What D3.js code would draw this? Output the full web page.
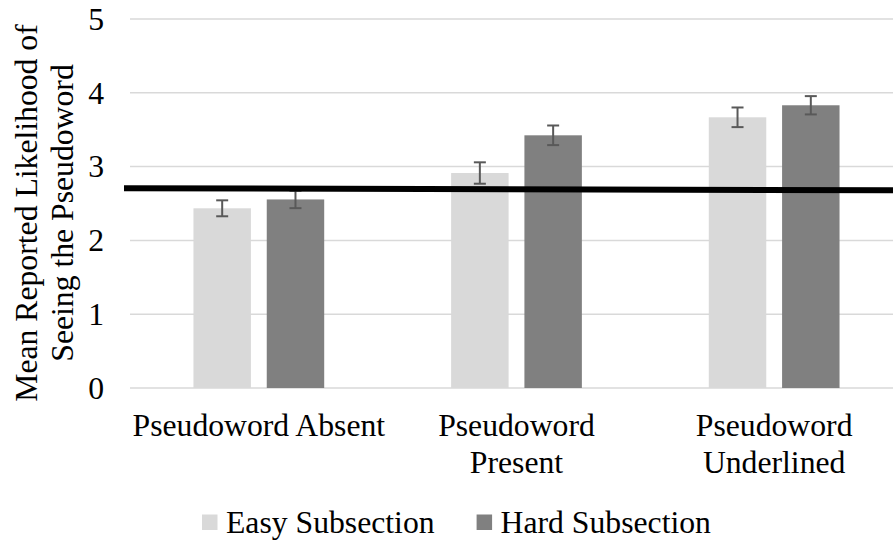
<!DOCTYPE html>
<html>
<head>
<meta charset="utf-8">
<script src="https://cdn.jsdelivr.net/npm/d3@7"></script>
<style>
  body { margin: 0; background: #fff; }
</style>
</head>
<body>
<script>
const categories = ["Pseudoword Absent", "Pseudoword Present", "Pseudoword Underlined"];
const categoryLines = [["Pseudoword Absent"], ["Pseudoword", "Present"], ["Pseudoword", "Underlined"]];
const series = ["Easy Subsection", "Hard Subsection"];
const easyValues = [2.435, 2.913, 3.668];
const hardValues = [2.555, 3.424, 3.831];
const easyErrors = [0.108, 0.145, 0.133];
const hardErrors = [0.118, 0.133, 0.124];
const yTicks = [0, 1, 2, 3, 4, 5];
const yTitleLines = ["Mean Reported Likelihood of", "Seeing the Pseudoword"];
// hand-drawn reference line, value at its left and right ends
const refLine = [2.708, 2.679];

const width = 893;
const height = 544;
const fontSize = 31.7;
const colors = ["#d9d9d9", "#808080"];

const svg = d3
  .select("body")
  .append("svg")
  .attr("width", width)
  .attr("height", height)
  .style("display", "block")
  .attr("font-family", "'Liberation Serif', 'Times New Roman', Times, 'DejaVu Serif', serif");

const x = d3.scaleBand().domain(categories).range([130, 903]);
const xInner = d3
  .scaleBand()
  .domain(series)
  .range([0, x.bandwidth()])
  .paddingInner(0.216)
  .paddingOuter(0.866);
const y = d3.scaleLinear().domain([0, 5]).range([388, 19]);

// gridlines
svg
  .append("g")
  .selectAll("line")
  .data(yTicks)
  .enter()
  .append("line")
  .attr("x1", 130)
  .attr("x2", width)
  .attr("y1", (d) => y(d))
  .attr("y2", (d) => y(d))
  .attr("stroke", "#d9d9d9")
  .attr("stroke-width", 1.5);

// y tick labels
svg
  .append("g")
  .selectAll("text")
  .data(yTicks)
  .enter()
  .append("text")
  .attr("x", 104)
  .attr("y", (d) => y(d))
  .attr("dy", "0.34em")
  .attr("text-anchor", "end")
  .attr("font-size", fontSize)
  .text((d) => d);

// y title
const title = svg
  .append("text")
  .attr("transform", "translate(37,213) rotate(-90)")
  .attr("text-anchor", "middle")
  .attr("font-size", fontSize);
title
  .selectAll("tspan")
  .data(yTitleLines)
  .enter()
  .append("tspan")
  .attr("x", 0)
  .attr("y", (d, i) => i * 36)
  .text((d) => d);

const rows = categories.map((c, i) => ({
  category: c,
  values: [
    { key: series[0], value: easyValues[i], err: easyErrors[i] },
    { key: series[1], value: hardValues[i], err: hardErrors[i] },
  ],
}));

const groups = svg
  .append("g")
  .selectAll("g")
  .data(rows)
  .enter()
  .append("g")
  .attr("transform", (d) => `translate(${x(d.category)},0)`);

groups
  .selectAll("rect")
  .data((d) => d.values)
  .enter()
  .append("rect")
  .attr("x", (d) => xInner(d.key))
  .attr("width", xInner.bandwidth())
  .attr("y", (d) => y(d.value))
  .attr("height", (d) => y(0) - y(d.value))
  .attr("fill", (d, i) => colors[i]);

// error bars
const errG = groups
  .selectAll("g.err")
  .data((d) => d.values)
  .enter()
  .append("g")
  .attr("class", "err")
  .attr("stroke", "#595959")
  .attr("stroke-width", 2)
  .attr("transform", (d) => `translate(${xInner(d.key) + xInner.bandwidth() / 2},0)`);

errG
  .append("line")
  .attr("y1", (d) => y(d.value + d.err))
  .attr("y2", (d) => y(d.value - d.err));
errG
  .selectAll("line.cap")
  .data((d) => [d.value + d.err, d.value - d.err])
  .enter()
  .append("line")
  .attr("class", "cap")
  .attr("x1", -6)
  .attr("x2", 6)
  .attr("y1", (d) => y(d))
  .attr("y2", (d) => y(d));

// reference line drawn over the bars
svg
  .append("line")
  .attr("x1", 124)
  .attr("x2", width)
  .attr("y1", y(refLine[0]))
  .attr("y2", y(refLine[1]))
  .attr("stroke", "#000")
  .attr("stroke-width", 6);

// category labels
const catText = svg
  .append("g")
  .selectAll("text")
  .data(categories)
  .enter()
  .append("text")
  .attr("text-anchor", "middle")
  .attr("font-size", fontSize);
catText
  .selectAll("tspan")
  .data((d, i) => categoryLines[i].map((line) => ({ line, c: d })))
  .enter()
  .append("tspan")
  .attr("x", (d) => x(d.c) + x.bandwidth() / 2)
  .attr("y", (d, i) => 436 + i * 36.5)
  .text((d) => d.line);

// legend
const legend = svg.append("g");
let lx = 202;
series.forEach((s, i) => {
  legend
    .append("rect")
    .attr("x", lx)
    .attr("y", 514.5)
    .attr("width", 15.5)
    .attr("height", 15.5)
    .attr("fill", colors[i]);
  const t = legend
    .append("text")
    .attr("x", lx + 24)
    .attr("y", 533.3)
    .attr("font-size", fontSize)
    .text(s);
  lx += 24 + t.node().getComputedTextLength() + 42;
});
</script>
</body>
</html>
